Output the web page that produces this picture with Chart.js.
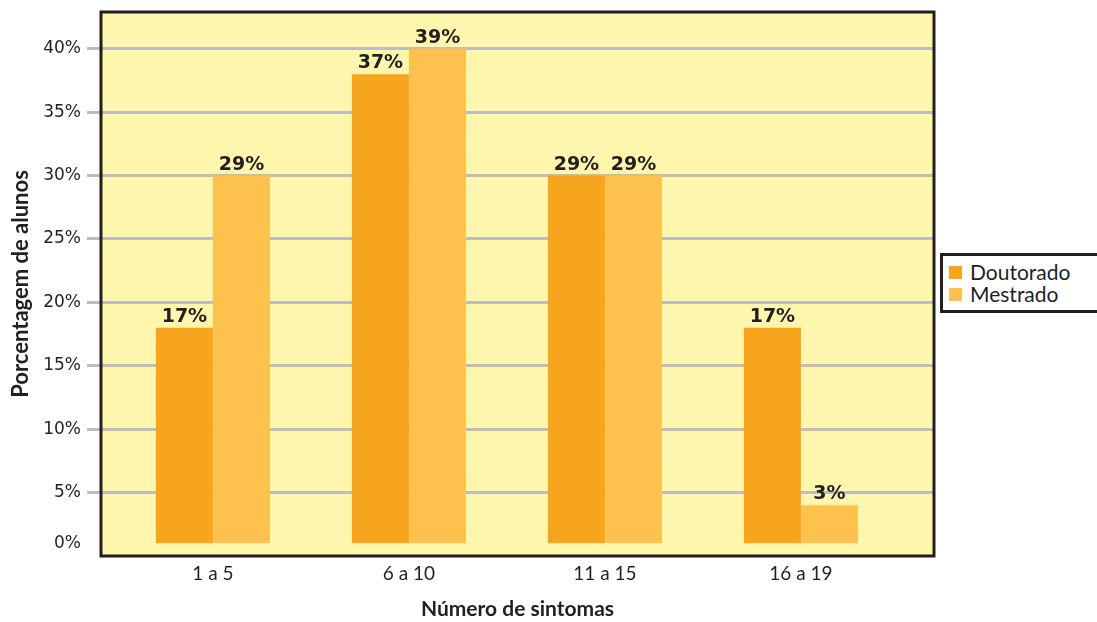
<!DOCTYPE html>
<html>
<head>
<meta charset="utf-8">
<script src="https://cdn.jsdelivr.net/npm/chart.js@4.4.1/dist/chart.umd.min.js"></script>
<style>
    body { margin: 0; background: #ffffff; }
    #wrap { position: relative; width: 1097px; height: 622px; }
    #legend {
        position: absolute; left: 940px; top: 253px; width: 170px; height: 54px;
        border: 3px solid #231f20; background: #ffffff;
        font-family: Lato, sans-serif; font-size: 21px; color: #231f20;
    }
    #legend div { position: absolute; left: 27px; white-space: nowrap; line-height: 22px; }
    #legend span { position: absolute; left: -21px; top: 5px; width: 13px; height: 13px; }
</style>
</head>
<body>
<div id="wrap">
    <canvas id="myChart" width="1097" height="622"></canvas>
    <div id="legend"></div>
</div>
<script>

const categories = ["1 a 5", "6 a 10", "11 a 15", "16 a 19"];
const seriesNames = ["Doutorado", "Mestrado"];
const doutorado = [17, 37, 29, 17];
const mestrado = [29, 39, 29, 3];
const yTickValues = [0, 5, 10, 15, 20, 25, 30, 35, 40];
const yTickLabels = ["0%", "5%", "10%", "15%", "20%", "25%", "30%", "35%", "40%"];

const colors = ["#f7a51c", "#fdc14d"];
const textColor = "#231f20";
const plotBg = "#fff6ae";
const gridColor = "#bdbdbd";

// bars in the original start a bit above the axis line
const barLift = 1;

function toBars(values) {
    return values.map((v, i) => ({ x: i, y: [barLift, v + barLift], v: v }));
}

const plotFrame = {
    id: 'plotFrame',
    beforeDraw(chart) {
        const a = chart.chartArea;
        const ctx = chart.ctx;
        ctx.save();
        ctx.fillStyle = plotBg;
        ctx.fillRect(a.left, a.top, a.right - a.left, a.bottom - a.top);
        ctx.restore();
    },
    afterDatasetsDraw(chart) {
        const a = chart.chartArea;
        const ctx = chart.ctx;
        ctx.save();
        ctx.strokeStyle = textColor;
        ctx.lineWidth = 3;
        ctx.strokeRect(a.left, a.top, a.right - a.left, a.bottom - a.top);

        // value labels above bars
        ctx.fillStyle = textColor;
        ctx.font = "bold 19px 'DejaVu Sans'";
        ctx.textAlign = "center";
        ctx.textBaseline = "alphabetic";
        chart.data.datasets.forEach((ds, di) => {
            const meta = chart.getDatasetMeta(di);
            meta.data.forEach((bar, i) => {
                ctx.fillText(ds.data[i].v + "%", bar.x, bar.y - 6);
            });
        });
        ctx.restore();
    }
};

const ctx = document.getElementById('myChart');

const chart = new Chart(ctx, {
    type: 'bar',
    data: {
        datasets: [
            { label: seriesNames[0], data: toBars(doutorado), backgroundColor: colors[0] },
            { label: seriesNames[1], data: toBars(mestrado), backgroundColor: colors[1] }
        ]
    },
    options: {
        responsive: false,
        animation: false,
        events: [],
        layout: { padding: { left: 0, top: 12, right: 163, bottom: 0 } },
        datasets: {
            bar: { barPercentage: 1, categoryPercentage: 0.582, borderWidth: 0 }
        },
        plugins: {
            legend: { display: false },
            tooltip: { enabled: false }
        },
        scales: {
            x: {
                type: 'linear',
                offset: false,
                min: -0.571,
                max: 3.679,
                afterBuildTicks: (scale) => { scale.ticks = categories.map((c, i) => ({ value: i })); },
                afterFit: (scale) => { scale.height = 66; scale.paddingLeft = 0; scale.paddingRight = 0; },
                ticks: {
                    callback: (v) => categories[v],
                    color: textColor,
                    font: { family: "Lato", size: 19 },
                    padding: 6,
                    maxRotation: 0
                },
                grid: { display: false, drawTicks: false },
                border: { display: false },
                title: {
                    display: true,
                    text: "Número de sintomas",
                    color: textColor,
                    font: { family: "Lato", size: 21, weight: "bold" },
                    padding: { top: 0, bottom: 0 }
                }
            },
            y: {
                min: 0,
                max: 42.9,
                // the 0% label sits at the foot of the bars
                afterBuildTicks: (scale) => {
                    scale.ticks = yTickValues.map(v => ({ value: v === 0 ? barLift : v }));
                },
                afterFit: (scale) => { scale.width = 101; scale.paddingTop = 0; scale.paddingBottom = 0; },
                ticks: {
                    callback: (v, i) => yTickLabels[i],
                    color: textColor,
                    font: { family: "DejaVu Sans", size: 17 },
                    padding: 6
                },
                grid: {
                    color: (c) => (c.tick && c.tick.value === barLift) ? 'rgba(0,0,0,0)' : gridColor,
                    lineWidth: 3,
                    tickLength: 14
                },
                border: { display: false },
                title: {
                    display: true,
                    text: "Porcentagem de alunos",
                    color: textColor,
                    font: { family: "Lato", size: 22, weight: "bold" },
                    padding: { top: 8, bottom: 0 }
                }
            }
        }
    },
    plugins: [plotFrame]
});

// legend
const legend = document.getElementById("legend");
seriesNames.forEach((name, i) => {
    const row = document.createElement("div");
    row.style.top = (5 + i * 22) + "px";
    row.innerHTML = '<span style="background:' + colors[i] + '"></span>' + name;
    legend.appendChild(row);
});

</script>
</body>
</html>
